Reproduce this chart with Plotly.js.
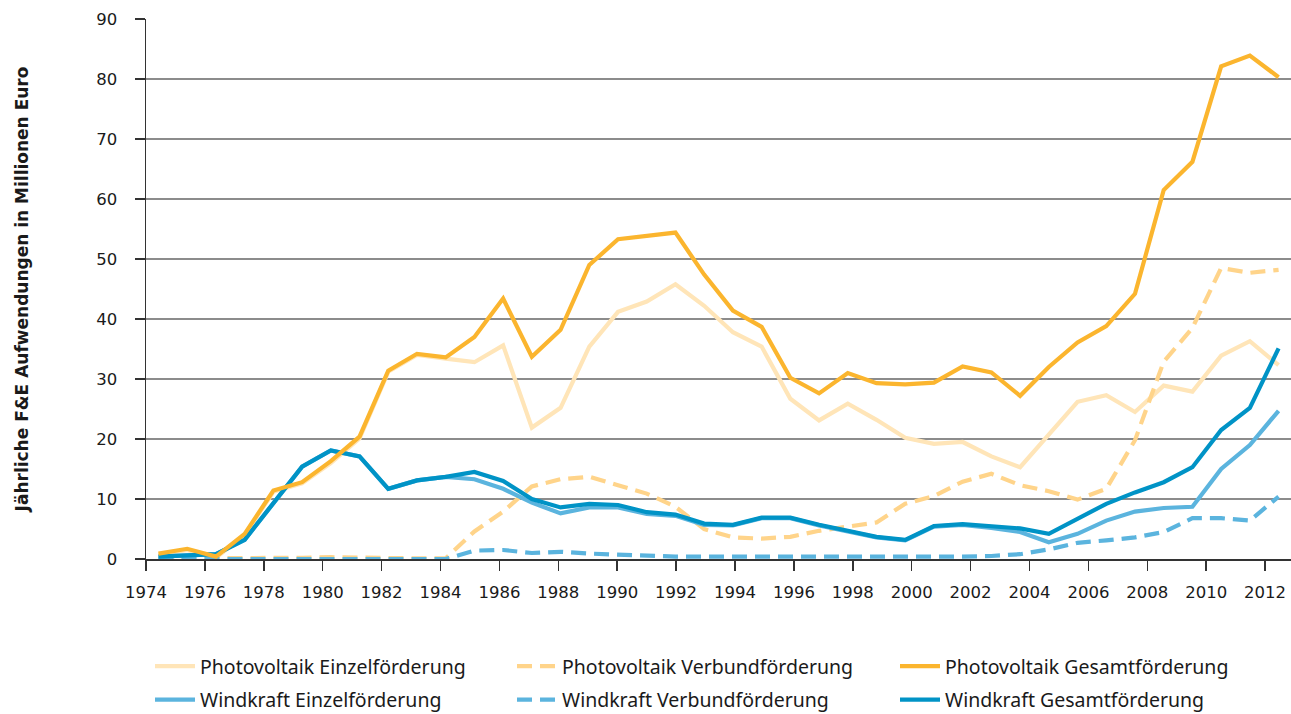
<!DOCTYPE html>
<html>
<head>
<meta charset="utf-8">
<script src="https://cdn.plot.ly/plotly-3.0.1.min.js"></script>
<style>
  html, body { margin: 0; padding: 0; background: #ffffff; }
  #chart { width: 1291px; height: 714px; }
</style>
</head>
<body>
<div id="chart"></div>
<script>
// ---- Data ----
const years = [1974, 1975, 1976, 1977, 1978, 1979, 1980, 1981, 1982, 1983,
               1984, 1985, 1986, 1987, 1988, 1989, 1990, 1991, 1992, 1993,
               1994, 1995, 1996, 1997, 1998, 1999, 2000, 2001, 2002, 2003,
               2004, 2005, 2006, 2007, 2008, 2009, 2010, 2011, 2012, 2013];

const pvEinzel = [0.7, 1.5, 0.2, 4.0, 11.2, 12.6, 16.0, 20.1, 31.2, 34.0,
                  33.4, 32.8, 35.6, 21.9, 25.2, 35.4, 41.2, 42.9, 45.8, 42.2,
                  37.8, 35.4, 26.7, 23.1, 25.9, 23.2, 20.2, 19.2, 19.5, 17.1,
                  15.3, 20.7, 26.2, 27.3, 24.5, 28.9, 27.9, 33.9, 36.3, 32.3];

const pvVerbund = [0.1, 0.1, 0.1, 0.1, 0.2, 0.2, 0.3, 0.2, 0.2, 0.1,
                   0.1, 4.6, 7.9, 12.1, 13.3, 13.7, 12.3, 10.9, 8.7, 5.0,
                   3.6, 3.4, 3.7, 4.7, 5.4, 6.1, 9.2, 10.5, 12.9, 14.2,
                   12.3, 11.3, 9.9, 11.7, 19.8, 32.9, 38.5, 48.5, 47.7, 48.2];

const pvGesamt = [0.9, 1.7, 0.4, 4.2, 11.4, 12.8, 16.3, 20.4, 31.4, 34.2,
                  33.6, 37.0, 43.4, 33.7, 38.2, 49.0, 53.3, 53.8, 54.4, 47.4,
                  41.4, 38.7, 30.2, 27.6, 31.0, 29.3, 29.1, 29.4, 32.1, 31.1,
                  27.2, 32.0, 36.1, 38.8, 44.2, 61.5, 66.2, 82.1, 83.9, 80.3];

const windEinzel = [0.4, 0.6, 0.8, 3.2, 9.2, 15.4, 18.1, 17.1, 11.7, 13.1,
                    13.7, 13.3, 11.7, 9.4, 7.6, 8.6, 8.6, 7.5, 7.2, 5.7,
                    5.6, 6.8, 6.8, 5.6, 4.6, 3.6, 3.1, 5.4, 5.7, 5.2,
                    4.5, 2.8, 4.2, 6.4, 7.9, 8.5, 8.7, 15.0, 19.0, 24.7];

const windVerbund = [0, 0, 0, 0, 0, 0, 0, 0, 0, 0,
                     0, 1.4, 1.5, 1.0, 1.2, 0.9, 0.7, 0.6, 0.4, 0.4,
                     0.4, 0.3, 0.3, 0.3, 0.3, 0.3, 0.3, 0.3, 0.4, 0.5,
                     0.8, 1.6, 2.7, 3.1, 3.6, 4.5, 6.8, 6.8, 6.4, 10.4];

const windGesamt = [0.4, 0.6, 0.8, 3.2, 9.2, 15.4, 18.1, 17.1, 11.7, 13.1,
                    13.7, 14.5, 13.0, 10.0, 8.6, 9.2, 9.0, 7.8, 7.4, 5.9,
                    5.7, 6.9, 6.9, 5.7, 4.7, 3.7, 3.2, 5.5, 5.8, 5.4,
                    5.1, 4.2, 6.7, 9.2, 11.1, 12.8, 15.3, 21.5, 25.2, 35.1];

const tickYears = [1974, 1976, 1978, 1980, 1982, 1984, 1986, 1988, 1990, 1992,
                   1994, 1996, 1998, 2000, 2002, 2004, 2006, 2008, 2010, 2012];

const seriesNames = {
  pvE: 'Photovoltaik Einzelförderung',
  pvV: 'Photovoltaik Verbundförderung',
  pvG: 'Photovoltaik Gesamtförderung',
  wE: 'Windkraft Einzelförderung',
  wV: 'Windkraft Verbundförderung',
  wG: 'Windkraft Gesamtförderung'
};

// ---- Styling / layout ----
const C = {
  pvE: '#FFE5B8', pvV: '#FFD48A', pvG: '#FBB52E',
  wE: '#5BB4DE', wV: '#5BB4DE', wG: '#0093C6'
};
const LW = 4.2;
const DASH = '15px,8px';

// The reference draws its tick labels on a slightly different spacing than
// the data points; map label years onto the data axis accordingly.
const plotLeft = 146, plotRight = 1291;
const firstPointPx = 158.5, pointStep = 28.72, labelStep = 29.45;
const toAxis = px => years[0] + (px - firstPointPx) / pointStep;
const tickvals = tickYears.map(y => toAxis(plotLeft + labelStep * (y - tickYears[0])));
const tickText = tickYears.map(String);

function tr(y, name, color, dash, legend, group, rank) {
  return {
    x: years, y: y, name: name, type: 'scatter', mode: 'lines',
    line: { color: color, width: LW, dash: dash || 'solid' },
    legend: legend, legendgroup: group, legendrank: rank, hoverinfo: 'skip'
  };
}

// draw order: PV Gesamt last (on top); legend rows via legendrank (PV row first)
const drawn = [
  tr(pvEinzel, seriesNames.pvE, C.pvE, null, 'legend', 'g1', 1),
  tr(pvVerbund, seriesNames.pvV, C.pvV, DASH, 'legend2', 'g3', 1),
  tr(windEinzel, seriesNames.wE, C.wE, null, 'legend', 'g2', 2),
  tr(windVerbund, seriesNames.wV, C.wV, DASH, 'legend2', 'g4', 2),
  tr(windGesamt, seriesNames.wG, C.wG, null, 'legend3', 'g6', 2),
  tr(pvGesamt, seriesNames.pvG, C.pvG, null, 'legend3', 'g5', 1)
];

const legendFont = { family: 'Noto Sans, sans-serif', size: 19.5, color: '#1a1a1a' };
const pw = plotRight - plotLeft;
const legY = -(647 - 559) / 540; // top of legend block in paper units
function legendAt(px) {
  return {
    x: (px - plotLeft) / pw, xref: 'paper', xanchor: 'left',
    y: legY, yref: 'paper', yanchor: 'top',
    orientation: 'v', traceorder: 'grouped', tracegroupgap: 5,
    itemwidth: 40, font: legendFont, bgcolor: 'rgba(0,0,0,0)', borderwidth: 0
  };
}

const layout = {
  width: 1291, height: 714,
  margin: { l: plotLeft, r: 0, t: 19, b: 155, pad: 0, autoexpand: false },
  paper_bgcolor: '#ffffff', plot_bgcolor: '#ffffff',
  showlegend: true,
  legend: legendAt(150),
  legend2: legendAt(512),
  legend3: legendAt(895),
  xaxis: {
    range: [toAxis(plotLeft), toAxis(plotRight)],
    tickmode: 'array', tickvals: tickvals, ticktext: tickText,
    ticks: 'outside', ticklen: 10, tickwidth: 1.5, tickcolor: '#333333',
    showline: true, linecolor: '#333333', linewidth: 1.5,
    showgrid: false, zeroline: false,
    ticklabelstandoff: 8,
    tickfont: { family: 'DejaVu Sans, sans-serif', size: 16.5, color: '#1a1a1a' },
    automargin: false,
    fixedrange: true
  },
  yaxis: {
    range: [0, 90], dtick: 10, tick0: 0,
    ticks: 'outside', ticklen: 10, tickwidth: 1.5, tickcolor: '#333333',
    showline: true, linecolor: '#333333', linewidth: 1.5,
    showgrid: true, gridcolor: '#8c8c8c', gridwidth: 1.2,
    zeroline: false,
    ticklabelstandoff: 14,
    tickfont: { family: 'DejaVu Sans, sans-serif', size: 16.5, color: '#1a1a1a' },
    title: {
      text: 'Jährliche F&E Aufwendungen in Millionen Euro',
      font: { family: 'DejaVu Sans, sans-serif', size: 17, color: '#1a1a1a', weight: 'bold' },
      standoff: 63
    },
    automargin: false,
    fixedrange: true
  }
};

Plotly.newPlot('chart', drawn, layout, { staticPlot: true, displayModeBar: false });
</script>
</body>
</html>
